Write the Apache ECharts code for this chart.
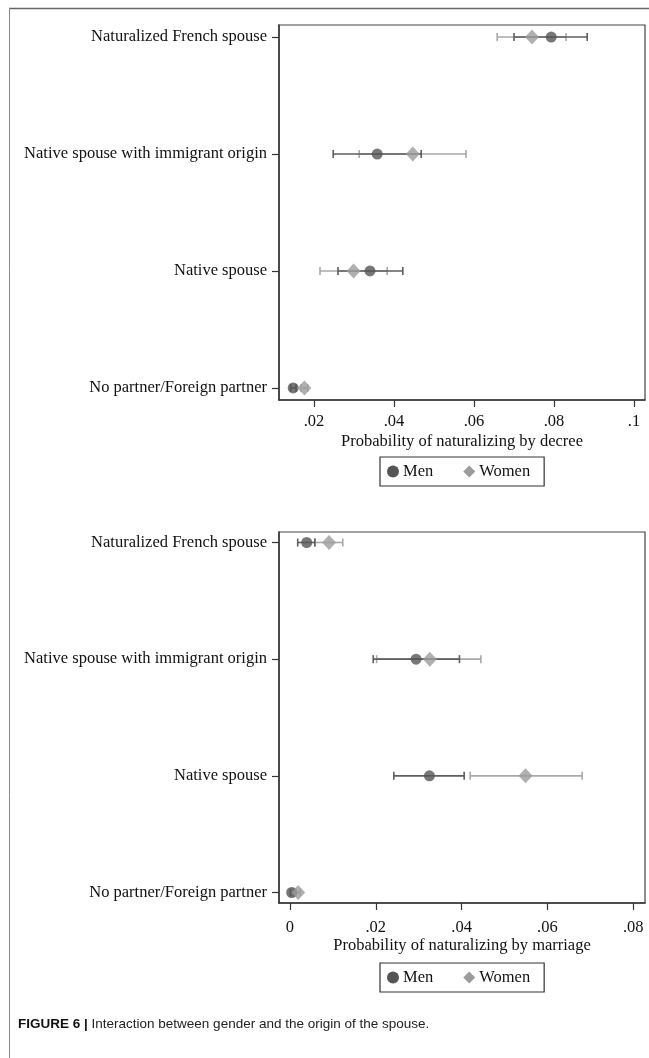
<!DOCTYPE html>
<html>
<head>
<meta charset="utf-8">
<script src="https://cdn.jsdelivr.net/npm/echarts@6/dist/echarts.min.js"></script>
<style>
html,body{margin:0;padding:0;background:#fff;}
#chart{width:649px;height:1058px;}
</style>
</head>
<body>
<div id="chart"></div>
<script>
const categories = ['Naturalized French spouse','Native spouse with immigrant origin','Native spouse','No partner/Foreign partner'];

const decreeMen     = [0.0793, 0.0358, 0.0340, 0.0148];
const decreeMenLo   = [0.0700, 0.0248, 0.0260, 0.0142];
const decreeMenHi   = [0.0883, 0.0468, 0.0422, 0.0155];
const decreeWomen   = [0.0745, 0.0447, 0.0299, 0.0176];
const decreeWomenLo = [0.0658, 0.0313, 0.0215, 0.0168];
const decreeWomenHi = [0.0830, 0.0580, 0.0383, 0.0184];

const marriageMen     = [0.0039, 0.0294, 0.0325, 0.0004];
const marriageMenLo   = [0.0018, 0.0194, 0.0242, 0.0001];
const marriageMenHi   = [0.0058, 0.0395, 0.0406, 0.0008];
const marriageWomen   = [0.0091, 0.0326, 0.0549, 0.0019];
const marriageWomenLo = [0.0058, 0.0202, 0.0420, 0.0014];
const marriageWomenHi = [0.0123, 0.0445, 0.0681, 0.0024];

const decreeTicks = [0.02, 0.04, 0.06, 0.08, 0.1];
const decreeTickLabels = ['.02', '.04', '.06', '.08', '.1'];
const marriageTicks = [0, 0.02, 0.04, 0.06, 0.08];
const marriageTickLabels = ['0', '.02', '.04', '.06', '.08'];

const menColor = '#555555';
const womenColor = '#9c9c9c';
const menBarColor = '#5e5e5e';
const womenBarColor = '#a8a8a8';
const serif = '"Liberation Serif", "DejaVu Serif", serif';
const fs = 16.5;

function tickLabel(ticks, labels) {
  return function (v) {
    for (let i = 0; i < ticks.length; i++) {
      if (Math.abs(v - ticks[i]) < 1e-9) return labels[i];
    }
    return '';
  };
}

function errData(lo, hi) {
  return categories.map((c, i) => [lo[i], hi[i], i]);
}
function ptData(v) {
  return categories.map((c, i) => [v[i], i]);
}

function errSeries(name, lo, hi, color, gi) {
  return {
    type: 'custom', name: name, xAxisIndex: gi, yAxisIndex: gi,
    data: errData(lo, hi), z: 2, silent: true,
    itemStyle: { color: color },
    encode: { x: [0, 1], y: 2 },
    renderItem: function (params, api) {
      const a = api.coord([api.value(0), api.value(2)]);
      const b = api.coord([api.value(1), api.value(2)]);
      const h = 4;
      const st = { stroke: color, lineWidth: 1.6 };
      return {
        type: 'group',
        children: [
          { type: 'line', shape: { x1: a[0], y1: a[1], x2: b[0], y2: b[1] }, style: st },
          { type: 'line', shape: { x1: a[0], y1: a[1] - h, x2: a[0], y2: a[1] + h }, style: st },
          { type: 'line', shape: { x1: b[0], y1: b[1] - h, x2: b[0], y2: b[1] + h }, style: st }
        ]
      };
    }
  };
}

function yAxis(gi, mn, mx) {
  return {
    type: 'value', gridIndex: gi, inverse: true, min: mn, max: mx,
    axisLine: { show: true, onZero: false, lineStyle: { color: '#333', width: 1.5 } },
    axisTick: { show: true, length: 7, customValues: [0, 1, 2, 3], lineStyle: { color: '#333', width: 1.2 } },
    axisLabel: {
      customValues: [0, 1, 2, 3], margin: 12,
      formatter: function (v) { return categories[Math.round(v)] || ''; },
      fontFamily: serif, fontSize: fs, color: '#111'
    },
    splitLine: { show: false }
  };
}

function xAxis(gi, mn, mx, ticks, labels, name, margin, gap) {
  return {
    type: 'value', gridIndex: gi, min: mn, max: mx,
    axisLine: { show: true, onZero: false, lineStyle: { color: '#333', width: 1.5 } },
    axisTick: { show: true, length: 7, customValues: ticks, lineStyle: { color: '#333', width: 1.2 } },
    axisLabel: {
      customValues: ticks, margin: margin,
      formatter: tickLabel(ticks, labels),
      fontFamily: serif, fontSize: fs, color: '#111'
    },
    splitLine: { show: false },
    name: name, nameLocation: 'middle', nameGap: gap,
    nameTextStyle: { fontFamily: serif, fontSize: fs, color: '#111' }
  };
}

function legend(top) {
  return {
    left: 380, top: top, orient: 'horizontal',
    data: [
      { name: 'Men', icon: 'circle', itemStyle: { color: menColor } },
      { name: 'Women', icon: 'diamond', itemStyle: { color: womenColor } }
    ],
    itemWidth: 12, itemHeight: 12, itemGap: 30,
    borderColor: '#333', borderWidth: 1.2, padding: [6, 14, 6, 7],
    textStyle: { fontFamily: serif, fontSize: fs, color: '#111', padding: [0, 0, 0, -1] },
    selectedMode: false
  };
}

const chart = echarts.init(document.getElementById('chart'), null, { renderer: 'canvas' });

chart.setOption({
  animation: false,
  backgroundColor: '#fff',
  grid: [
    { left: 279, top: 25, width: 366, height: 375, show: true, borderColor: '#444', borderWidth: 1.2, backgroundColor: '#fff' },
    { left: 279, top: 532, width: 366, height: 371, show: true, borderColor: '#444', borderWidth: 1.2, backgroundColor: '#fff' }
  ],
  xAxis: [
    xAxis(0, 0.01125, 0.10275, decreeTicks, decreeTickLabels, 'Probability of naturalizing by decree', 13, 33),
    xAxis(1, -0.00256, 0.08275, marriageTicks, marriageTickLabels, 'Probability of naturalizing by marriage', 16, 34)
  ],
  yAxis: [yAxis(0, -0.103, 3.103), yAxis(1, -0.09, 3.09)],
  legend: [legend(457), legend(963)],
  series: [
    errSeries('Women', decreeWomenLo, decreeWomenHi, womenBarColor, 0),
    errSeries('Men', decreeMenLo, decreeMenHi, menBarColor, 0),
    { type: 'scatter', name: 'Men', xAxisIndex: 0, yAxisIndex: 0, data: ptData(decreeMen), symbol: 'circle', symbolSize: 11, itemStyle: { color: menColor }, z: 3 },
    { type: 'scatter', name: 'Women', xAxisIndex: 0, yAxisIndex: 0, data: ptData(decreeWomen), symbol: 'diamond', symbolSize: [14, 15], itemStyle: { color: womenColor }, z: 4 },
    errSeries('Women', marriageWomenLo, marriageWomenHi, womenBarColor, 1),
    errSeries('Men', marriageMenLo, marriageMenHi, menBarColor, 1),
    { type: 'scatter', name: 'Men', xAxisIndex: 1, yAxisIndex: 1, data: ptData(marriageMen), symbol: 'circle', symbolSize: 11, itemStyle: { color: menColor }, z: 3 },
    { type: 'scatter', name: 'Women', xAxisIndex: 1, yAxisIndex: 1, data: ptData(marriageWomen), symbol: 'diamond', symbolSize: [14, 15], itemStyle: { color: womenColor }, z: 4 }
  ],
  graphic: [
    { type: 'line', shape: { x1: 9, y1: 8.5, x2: 649, y2: 8.5 }, style: { stroke: '#666', lineWidth: 1.3 } },
    { type: 'line', shape: { x1: 9.5, y1: 8, x2: 9.5, y2: 1058 }, style: { stroke: '#888', lineWidth: 1 } },
    {
      type: 'text', left: 18, top: 1017,
      style: {
        text: '{b|FIGURE 6 |} Interaction between gender and the origin of the spouse.',
        fontFamily: '"Liberation Sans", Arial, sans-serif', fontSize: 13.5, fill: '#222',
        rich: { b: { fontFamily: '"Liberation Sans", Arial, sans-serif', fontSize: 13.5, fontWeight: 'bold', fill: '#111' } }
      }
    }
  ]
});
</script>
</body>
</html>
